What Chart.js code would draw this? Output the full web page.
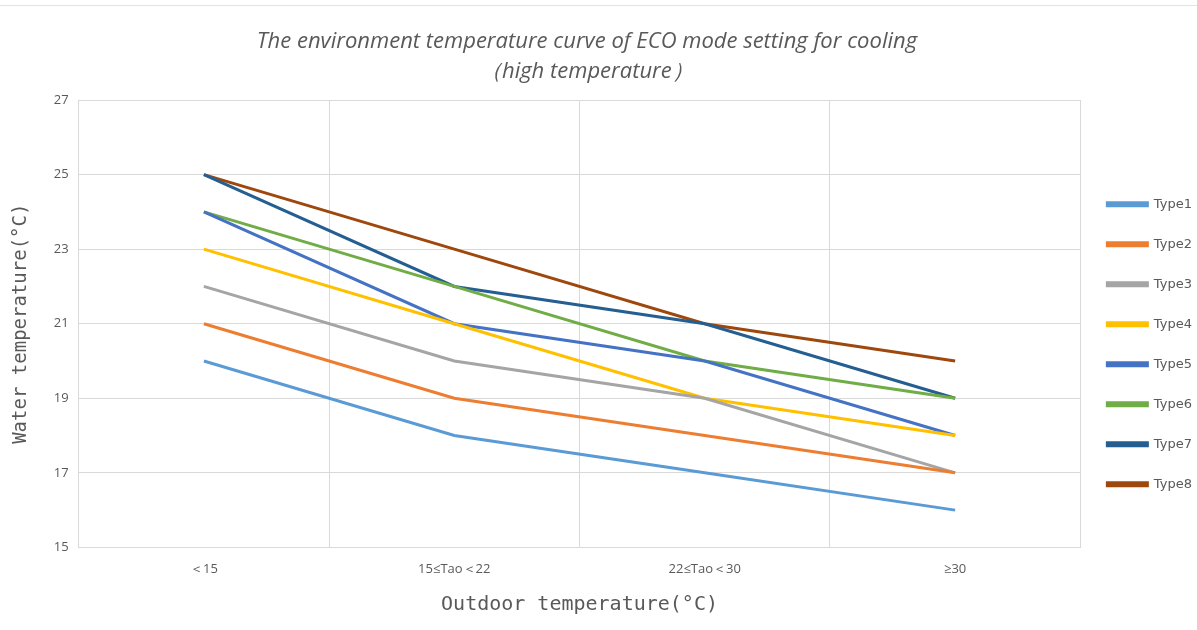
<!DOCTYPE html>
<html>
<head>
<meta charset="utf-8">
<script src="https://cdn.jsdelivr.net/npm/chart.js@4"></script>
<style>
  html, body { margin: 0; padding: 0; background: #fff; }
  #wrap { position: relative; width: 1197px; height: 630px; }
  #topline { position: absolute; left: 0; top: 5px; width: 1197px; height: 1px; background: #e3e3e3; }
</style>
</head>
<body>
<div id="wrap">
  <div id="topline"></div>
  <canvas id="ecoCanvas" width="1197" height="630"></canvas>
</div>
<script>
// categories and values
const categories = ["＜15", "15≤Tao＜22", "22≤Tao＜30", "≥30"];
const type1 = [20, 18, 17, 16];
const type2 = [21, 19, 18, 17];
const type3 = [22, 20, 19, 17];
const type4 = [23, 21, 19, 18];
const type5 = [24, 21, 20, 18];
const type6 = [24, 22, 20, 19];
const type7 = [25, 22, 21, 19];
const type8 = [25, 23, 21, 20];
const yTicks = [15, 17, 19, 21, 23, 25, 27];

const ecoCanvas = document.getElementById("ecoCanvas");

function serie(label, data, color) {
    return {
        label: label,
        data: data,
        borderColor: color,
        backgroundColor: color,
        borderWidth: 3,
        pointRadius: 0,
        pointHoverRadius: 0,
        tension: 0,
        fill: false
    };
}

// trailing nbsp pull the centred title a bit to the left, like the original
const pad = "\u00a0\u00a0\u00a0\u00a0\u00a0\u00a0";

const ecoChart = new Chart(ecoCanvas, {
    type: "line",
    data: {
        labels: categories,
        datasets: [
            serie("Type1", type1, "#5B9BD5"),
            serie("Type2", type2, "#ED7D31"),
            serie("Type3", type3, "#A5A5A5"),
            serie("Type4", type4, "#FFC000"),
            serie("Type5", type5, "#4472C4"),
            serie("Type6", type6, "#70AD47"),
            serie("Type7", type7, "#255E91"),
            serie("Type8", type8, "#9E480E"),
        ],
    },
    options: {
        responsive: false,
        animation: false,
        layout: { padding: { top: 27, left: 6, right: -5, bottom: 9 } },
        plugins: {
            title: {
                display: true,
                text: ["The environment temperature curve of ECO mode setting for cooling" + pad, "（high temperature）" + pad],
                color: "#595959",
                font: { family: "Open Sans", size: 22, style: "italic", weight: "normal", lineHeight: 1.364 },
                padding: { top: 0, bottom: 13 }
            },
            legend: {
                position: "right",
                title: { display: true, text: "", font: { size: 12, lineHeight: 1.2 }, padding: 13 },
                labels: {
                    boxWidth: 40,
                    boxHeight: 3,
                    padding: 27,
                    color: "#595959",
                    font: { family: "DejaVu Sans", size: 13 }
                }
            },
            tooltip: { enabled: false }
        },
        scales: {
            x: {
                offset: true,
                grid: { offset: true, color: "#d9d9d9", drawTicks: false },
                border: { color: "#d9d9d9" },
                ticks: { color: "#595959", font: { family: "Open Sans", size: 13 }, padding: 14 },
                title: {
                    display: true,
                    text: "Outdoor temperature(°C)",
                    color: "#595959",
                    font: { family: "DejaVu Sans Mono", size: 20 },
                    padding: { top: 2 }
                }
            },
            y: {
                min: yTicks[0],
                max: yTicks[yTicks.length - 1],
                afterBuildTicks: function (axis) {
                    axis.ticks = yTicks.map(function (v) { return { value: v }; });
                },
                grid: { color: "#d9d9d9", drawTicks: false },
                border: { color: "#d9d9d9" },
                ticks: { color: "#595959", font: { family: "Open Sans", size: 13 }, padding: 10 },
                title: {
                    display: true,
                    text: "Water temperature(°C)",
                    color: "#595959",
                    font: { family: "DejaVu Sans Mono", size: 19 },
                    padding: { bottom: 11 }
                }
            }
        }
    }
});
</script>
</body>
</html>
